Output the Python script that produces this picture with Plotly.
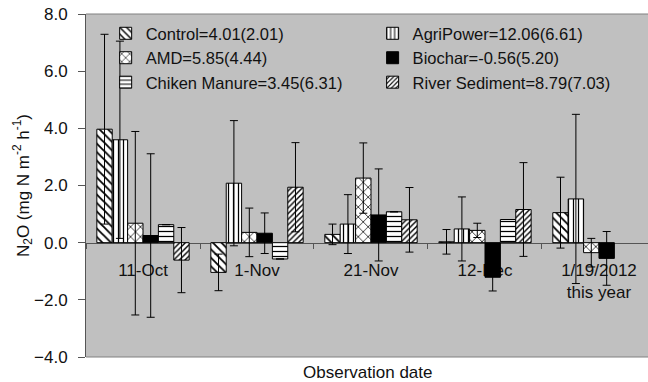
import plotly.graph_objects as go

categories = ["11-Oct", "1-Nov", "21-Nov", "12-Dec", "1/19/2012<br>this year"]

series_names = [
    "Control=4.01(2.01)",
    "AgriPower=12.06(6.61)",
    "AMD=5.85(4.44)",
    "Biochar=-0.56(5.20)",
    "Chiken Manure=3.45(6.31)",
    "River Sediment=8.79(7.03)",
]

control = [3.97, -1.04, 0.29, 0.03, 1.05]
control_err = [3.32, 0.64, 0.36, 0.43, 1.24]

agripower = [3.60, 2.08, 0.65, 0.48, 1.53]
agripower_err = [3.45, 2.19, 1.03, 1.12, 2.96]

amd = [0.68, 0.36, 2.26, 0.43, -0.35]
amd_err = [3.21, 0.85, 1.23, 0.25, 0.50]

biochar = [0.25, 0.33, 0.97, -1.21, -0.55]
biochar_err = [2.86, 0.71, 1.61, 0.48, 0.94]

chicken = [0.63, -0.57, 1.08, 0.81, None]
chicken_err = [0.0, 0.0, 0.0, 0.0, None]

river = [-0.61, 1.94, 0.80, 1.16, None]
river_err = [1.14, 1.56, 1.13, 1.64, None]

y_ticks = [-4, -2, 0, 2, 4, 6, 8]

values = [control, agripower, amd, biochar, chicken, river]
errors = [control_err, agripower_err, amd_err, biochar_err, chicken_err, river_err]

patterns = [
    dict(shape="\\", size=6, solidity=0.3),
    dict(shape="|", size=5, solidity=0.25),
    dict(shape="x", size=7, solidity=0.2),
    dict(shape="", size=6, solidity=0.3),
    dict(shape="-", size=5, solidity=0.25),
    dict(shape="/", size=4, solidity=0.35),
]
fills = ["white", "white", "white", "black", "white", "white"]
legend_ids = ["legend", "legend2", "legend", "legend2", "legend", "legend2"]

FONT = "Liberation Sans, Arial, sans-serif"
FS = 17

fig = go.Figure()
for name, v, e, pat, fc, lg in zip(series_names, values, errors, patterns, fills, legend_ids):
    marker = dict(color=fc, line=dict(color="black", width=1))
    if pat["shape"]:
        marker["pattern"] = dict(shape=pat["shape"], size=pat["size"], solidity=pat["solidity"],
                                 fgcolor="black", bgcolor="white", fillmode="replace")
    fig.add_trace(go.Bar(
        x=categories, y=v, name=name, marker=marker, legend=lg,
        error_y=dict(type="data", array=e, visible=True, color="black", thickness=1, width=4),
    ))

legend_common = dict(
    orientation="v", yanchor="top", xanchor="left",
    bgcolor="rgba(0,0,0,0)", borderwidth=0,
    font=dict(family=FONT, size=16.5, color="#111"),
    tracegroupgap=0,
)

fig.update_layout(
    width=648, height=382,
    margin=dict(l=86, r=0, t=14, b=25),
    paper_bgcolor="white",
    plot_bgcolor="#c0c0c0",
    barmode="group",
    bargap=0.19,
    bargroupgap=0,
    hovermode=False,
    font=dict(family=FONT, size=FS, color="#111"),
    showlegend=True,
    legend=dict(x=0.035, y=0.994, **legend_common),
    legend2=dict(x=0.51, y=0.994, **legend_common),
    xaxis=dict(
        type="category",
        range=[-0.5, 4.43],
        anchor="free", position=1/3,
        showline=True, linecolor="#555", linewidth=1,
        ticks="outside", ticklen=5, tickcolor="#555", tickson="boundaries",
        ticklabelstandoff=12,
        showgrid=False, zeroline=False,
        layer="below traces",
        tickfont=dict(family=FONT, size=FS, color="#111"),
    ),
    yaxis=dict(
        range=[-4, 8], tickvals=y_ticks, tickformat=".1f",
        showline=True, linecolor="#555", linewidth=1,
        ticks="outside", ticklen=7, tickcolor="#555",
        ticklabelstandoff=7,
        showgrid=False, zeroline=False,
        tickfont=dict(family=FONT, size=FS, color="#111"),
        title=dict(text="N<sub>2</sub>O (mg N m<sup>-2</sup> h<sup>-1</sup>)",
                   font=dict(family=FONT, size=FS, color="#111"), standoff=0),
    ),
    shapes=[
        dict(type="line", xref="paper", yref="paper", x0=0, x1=1, y0=1, y1=1,
             line=dict(color="#808080", width=1)),
        dict(type="line", xref="paper", yref="paper", x0=0, x1=1, y0=0, y1=0,
             line=dict(color="#808080", width=1)),
    ],
    annotations=[
        dict(text="Observation date", xref="paper", yref="paper", x=0.5, y=-0.046,
             xanchor="center", yanchor="middle", showarrow=False,
             font=dict(family=FONT, size=FS, color="#111")),
    ],
)

fig.write_html("out.html", config={"displayModeBar": False, "staticPlot": True},
               post_script="document.body.style.margin='0';document.body.style.overflow='hidden';")
